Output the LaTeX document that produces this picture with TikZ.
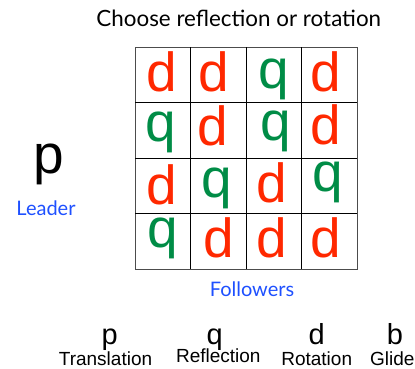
\documentclass[tikz,border=0pt]{standalone}
\usepackage{fontspec}
\setmainfont{Liberation Sans}
\newfontfamily\gillfont{Lato}
\definecolor{dred}{RGB}{255,40,0}
\definecolor{qgreen}{RGB}{0,140,70}
\definecolor{lblue}{RGB}{30,80,255}

\begin{document}
\begin{tikzpicture}[x=1pt,y=-1pt,
	letd/.style={text=dred,inner sep=0pt,font=\fontsize{55}{55}\selectfont},
	letq/.style={text=qgreen,inner sep=0pt,font=\fontsize{55}{55}\selectfont},
	caption/.style={text=lblue,inner sep=0pt,anchor=base,font=\gillfont\fontsize{20}{20}\selectfont},
	sym/.style={inner sep=0pt,anchor=base,font=\fontsize{29}{29}\selectfont},
	kind/.style={inner sep=0pt,anchor=base,font=\fontsize{19}{19}\selectfont}]
	\useasboundingbox (0,0) rectangle (415,368);
	%Titulo
	\node [inner sep=0pt,anchor=base,font=\gillfont\fontsize{22.4}{22.4}\selectfont] (title) at (238.8,26) {Choose reflection or rotation};
	%Tabla
	\draw [line width=1pt,black!70] (135,47) rectangle (357,269);
	\foreach \i in {1,2,3}{
		\draw [line width=1pt] ({135+55.5*\i},47)--({135+55.5*\i},269);
		\draw [line width=1pt] (135,{47+55.5*\i})--(357,{47+55.5*\i});
	}
	%Letras
	\foreach \n/\x/\y/\l in {a1/161.7/71.7/d, a2/213.8/71.7/d, a3/273.7/79/q, a4/325.8/71.7/d,
		b1/160.8/132.5/q, b2/212.5/126.2/d, b3/276/131.7/q, b4/325.8/125.3/d,
		c1/161.7/185/d, c2/217/188.3/q, c3/272/183.3/d, c4/328/182.5/q,
		d1/162.8/238/q, d2/218.8/237.7/d, d3/272/237.7/d, d4/325.3/237.7/d}
		\node [let\l] (\n) at (\x,\y) {\l};
	%Leader
	\node [inner sep=0pt,anchor=base,font=\fontsize{55}{55}\selectfont] (leader) at (48.3,173) {p};
	\node [caption] (leaderlbl) at (46,215) {Leader};
	\node [caption] (followlbl) at (252,296.7) {Followers};
	%Simetrias
	\node [sym] (p) at (109.7,344) {p};
	\node [sym] (q) at (214.7,344) {q};
	\node [sym] (d) at (316.7,344) {d};
	\node [sym] (b) at (395,344) {b};
	\node [kind] (transl) at (105.5,365) {Translation};
	\node [kind] (refl) at (218.3,362.8) {Reflection};
	\node [kind] (rot) at (316.7,365) {Rotation};
	\node [kind,anchor=base west] (glide) at (370,365) {Glide};
\end{tikzpicture}
\end{document}
